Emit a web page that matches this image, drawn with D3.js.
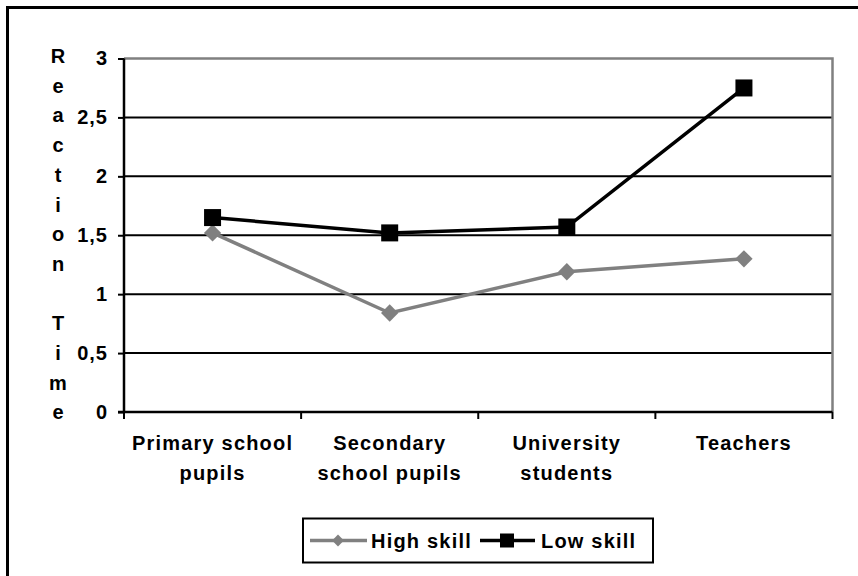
<!DOCTYPE html>
<html>
<head>
<meta charset="utf-8">
<script src="https://cdn.jsdelivr.net/npm/d3@7/dist/d3.min.js"></script>
<style>
  html, body { margin: 0; padding: 0; background: #fff; }
  svg { display: block; }
  text { font-family: "Liberation Sans", Arial, sans-serif; font-weight: bold; fill: #000; }
</style>
</head>
<body>
<svg id="chart" width="858" height="576"></svg>
<script>
// Groups along the x axis (each label split into its display lines)
const categories = ["Primary school pupils", "Secondary school pupils", "University students", "Teachers"];
const categoryLines = [["Primary school", "pupils"], ["Secondary", "school pupils"], ["University", "students"], ["Teachers"]];

// Mean reaction time per group
const highSkill = [1.52, 0.84, 1.19, 1.30];
const lowSkill  = [1.65, 1.52, 1.57, 2.75];

const seriesNames = ["High skill", "Low skill"];
const yTicks = [0, 0.5, 1, 1.5, 2, 2.5, 3];
const yTitle = "Reaction Time";

const svg = d3.select("#chart");
const W = 858, H = 576;

// Outer frame (top and left edges are visible, the rest runs off the canvas)
svg.append("path")
  .attr("d", `M7.5,${H + 5} L7.5,7.5 L${W + 5},7.5`)
  .attr("fill", "none").attr("stroke", "#000").attr("stroke-width", 3);

const plot = { left: 124, right: 832.5, top: 58.5, bottom: 412 };

const x = d3.scaleBand().domain(categories).range([plot.left, plot.right]).padding(0);
const y = d3.scaleLinear().domain([0, 3]).range([plot.bottom, plot.top]);
const fmt = d => String(d).replace(".", ",");

// Horizontal gridlines
svg.append("g").selectAll("line").data(yTicks.filter(t => t > 0 && t < 3)).join("line")
  .attr("x1", plot.left).attr("x2", plot.right)
  .attr("y1", d => y(d)).attr("y2", d => y(d))
  .attr("stroke", "#000").attr("stroke-width", 2);

// Plot area border (top and right, grey)
svg.append("path")
  .attr("d", `M${plot.left},${y(3)} L${plot.right},${y(3)} L${plot.right},${plot.bottom}`)
  .attr("fill", "none").attr("stroke", "#808080").attr("stroke-width", 2.5);

// Y axis
const yAxis = svg.append("g").attr("transform", `translate(${plot.left},0)`)
  .call(d3.axisLeft(y).tickValues(yTicks).tickSize(6).tickPadding(10).tickFormat(fmt));
yAxis.select(".domain").attr("stroke", "#000").attr("stroke-width", 2.5).attr("d", `M0,${y(3)}V${plot.bottom + 1}`);
yAxis.selectAll(".tick line").attr("stroke", "#000").attr("stroke-width", 2);
yAxis.selectAll(".tick text")
  .style("font-size", "20px").style("letter-spacing", "1px")
  .attr("font-family", null).attr("fill", "#000");

// X axis with ticks at category boundaries
const boundaries = categories.map(c => x(c)).concat([plot.right]);
const xAxisG = svg.append("g");
xAxisG.append("line")
  .attr("x1", plot.left - 6).attr("x2", plot.right)
  .attr("y1", plot.bottom).attr("y2", plot.bottom)
  .attr("stroke", "#000").attr("stroke-width", 2.5);
xAxisG.selectAll("line.tk").data(boundaries).join("line").attr("class", "tk")
  .attr("x1", d => d).attr("x2", d => d)
  .attr("y1", plot.bottom).attr("y2", plot.bottom + 7)
  .attr("stroke", "#000").attr("stroke-width", 2);

// Category labels
categories.forEach((c, i) => {
  const t = svg.append("text")
    .attr("x", x(c) + x.bandwidth() / 2)
    .attr("y", 450)
    .attr("text-anchor", "middle")
    .style("font-size", "20px").style("letter-spacing", "1.2px");
  categoryLines[i].forEach((line, j) => {
    t.append("tspan").attr("x", x(c) + x.bandwidth() / 2).attr("dy", j === 0 ? 0 : 30).text(line);
  });
});

// Vertical stacked axis title
const titleChars = yTitle.split("");
svg.append("g").selectAll("text").data(titleChars).join("text")
  .attr("x", 58)
  .attr("y", (d, i) => 63 + i * 29.7)
  .attr("text-anchor", "middle")
  .style("font-size", "20px")
  .text(d => d);

// Series lines and markers
const line = d3.line().x((d, i) => x(categories[i]) + x.bandwidth() / 2).y(d => y(d));

svg.append("path").datum(highSkill).attr("d", line)
  .attr("fill", "none").attr("stroke", "#808080").attr("stroke-width", 3.5);
svg.append("g").selectAll("path").data(highSkill).join("path")
  .attr("d", d3.symbol(d3.symbolSquare, 150))
  .attr("transform", (d, i) => `translate(${x(categories[i]) + x.bandwidth() / 2},${y(d)}) rotate(45)`)
  .attr("fill", "#808080");

svg.append("path").datum(lowSkill).attr("d", line)
  .attr("fill", "none").attr("stroke", "#000").attr("stroke-width", 3.5);
svg.append("g").selectAll("rect").data(lowSkill).join("rect")
  .attr("x", (d, i) => x(categories[i]) + x.bandwidth() / 2 - 8.5)
  .attr("y", d => y(d) - 8.5)
  .attr("width", 17).attr("height", 17)
  .attr("fill", "#000");

// Legend
const lg = svg.append("g");
lg.append("rect").attr("x", 303).attr("y", 518.5).attr("width", 350).attr("height", 44)
  .attr("fill", "#fff").attr("stroke", "#000").attr("stroke-width", 2);
const ly = 540.5;
lg.append("line").attr("x1", 310).attr("x2", 367).attr("y1", ly).attr("y2", ly)
  .attr("stroke", "#808080").attr("stroke-width", 3.5);
lg.append("path").attr("d", d3.symbol(d3.symbolSquare, 70))
  .attr("transform", `translate(338,${ly}) rotate(45)`).attr("fill", "#808080");
lg.append("text").attr("x", 371).attr("y", ly + 7.5).style("font-size", "20px").style("letter-spacing", "1.2px").text(seriesNames[0]);
lg.append("line").attr("x1", 480).attr("x2", 535).attr("y1", ly).attr("y2", ly)
  .attr("stroke", "#000").attr("stroke-width", 3.5);
lg.append("rect").attr("x", 500).attr("y", ly - 7).attr("width", 14).attr("height", 14).attr("fill", "#000");
lg.append("text").attr("x", 541).attr("y", ly + 7.5).style("font-size", "20px").style("letter-spacing", "1.2px").text(seriesNames[1]);
</script>
</body>
</html>
